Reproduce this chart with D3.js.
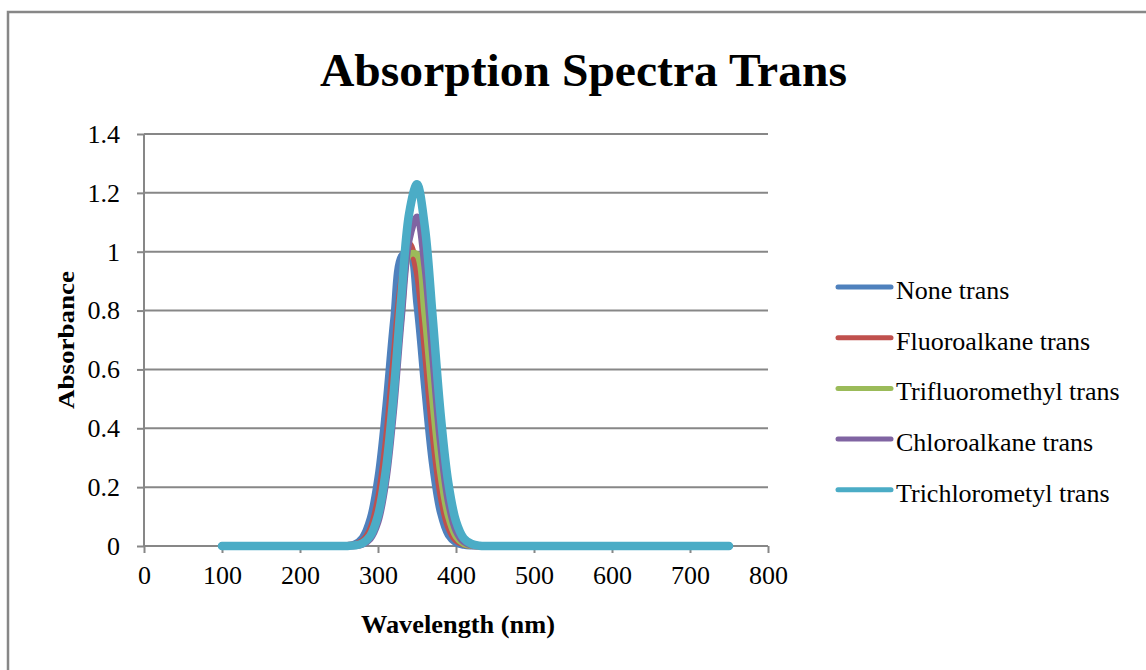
<!DOCTYPE html>
<html>
<head>
<meta charset="utf-8">
<script src="https://cdn.jsdelivr.net/npm/d3@7"></script>
<style>
  body { margin: 0; background: #fff; }
  text { font-family: "Liberation Serif", "Times New Roman", serif; fill: #000; }
</style>
</head>
<body>
<script>
// wavelengths (nm) shared by all series
const wavelength = [100, 250, 260, 270, 280, 290, 300, 310, 320, 330, 340, 350, 360, 370, 380, 390, 400, 410, 420, 430, 440, 450, 750];

// absorbance
const noneTrans    = [0, 0, 0.001, 0.007, 0.029, 0.094, 0.236, 0.476, 0.768, 0.985, 1.003, 0.815, 0.530, 0.274, 0.113, 0.037, 0.010, 0.002, 0, 0, 0, 0, 0];
const fluoroTrans  = [0, 0.001, 0.002, 0.004, 0.016, 0.054, 0.152, 0.343, 0.622, 0.895, 1.025, 0.934, 0.680, 0.395, 0.183, 0.067, 0.020, 0.006, 0.002, 0.001, 0, 0, 0];
const trifluoTrans = [0, 0, 0, 0.002, 0.008, 0.033, 0.103, 0.254, 0.502, 0.790, 0.990, 0.990, 0.790, 0.502, 0.254, 0.103, 0.033, 0.008, 0.002, 0, 0, 0, 0];
const chloroTrans  = [0, 0, 0, 0.001, 0.006, 0.025, 0.082, 0.218, 0.460, 0.776, 1.041, 1.118, 0.951, 0.647, 0.351, 0.152, 0.052, 0.014, 0.003, 0.001, 0, 0, 0];
const trichloTrans = [0, 0, 0, 0.002, 0.009, 0.034, 0.103, 0.256, 0.516, 0.847, 1.131, 1.229, 1.085, 0.780, 0.456, 0.217, 0.084, 0.026, 0.007, 0.001, 0, 0, 0];

const seriesNames = ['None trans', 'Fluoroalkane trans', 'Trifluoromethyl trans', 'Chloroalkane trans', 'Trichlorometyl trans'];
const seriesValues = [noneTrans, fluoroTrans, trifluoTrans, chloroTrans, trichloTrans];
const colors = ['#4F81BD', '#C0504D', '#9BBB59', '#8064A2', '#4BACC6'];

const xTicks = [0, 100, 200, 300, 400, 500, 600, 700, 800];
const yTicks = [0, 0.2, 0.4, 0.6, 0.8, 1, 1.2, 1.4];

const W = 1146, H = 670;
const plot = { left: 144, right: 768, top: 134, bottom: 546 };
const gray = '#878787';

const svg = d3.select('body').append('svg')
    .attr('width', W)
    .attr('height', H);

// outer chart border (only top and left show in the frame)
svg.append('path')
    .attr('d', `M8,${H} L8,12 L${W},12`)
    .attr('fill', 'none')
    .attr('stroke', gray)
    .attr('stroke-width', 2.5);

const x = d3.scaleLinear().domain([0, 800]).range([plot.left, plot.right]);
const y = d3.scaleLinear().domain([0, 1.4]).range([plot.bottom, plot.top]);

// gridlines
svg.append('g')
    .selectAll('line')
    .data(yTicks.slice(1))
    .enter().append('line')
    .attr('x1', plot.left)
    .attr('x2', plot.right)
    .attr('y1', d => y(d))
    .attr('y2', d => y(d))
    .attr('stroke', gray)
    .attr('stroke-width', 2);

// y axis
const yAxis = svg.append('g')
    .attr('transform', `translate(${plot.left},0)`)
    .call(d3.axisLeft(y).tickValues(yTicks).tickSize(7).tickPadding(17)
        .tickFormat(d => d3.format('~g')(d)));
yAxis.selectAll('line, path').attr('stroke', gray).attr('stroke-width', 2);
yAxis.select('.domain').attr('d', `M0,${plot.bottom}V${plot.top}`);
yAxis.selectAll('text')
    .style('font-family', '"Liberation Serif", serif')
    .style('font-size', '26px')
    .attr('fill', '#000');

// x axis
const xAxis = svg.append('g')
    .attr('transform', `translate(0,${plot.bottom})`)
    .call(d3.axisBottom(x).tickValues(xTicks).tickSize(7).tickPadding(13));
xAxis.selectAll('line, path').attr('stroke', gray).attr('stroke-width', 2);
xAxis.select('.domain').attr('d', `M${plot.left},0H${plot.right}`);
xAxis.selectAll('text')
    .style('font-family', '"Liberation Serif", serif')
    .style('font-size', '26px')
    .attr('fill', '#000');

// series lines
const line = d3.line()
    .x(d => x(d[0]))
    .y(d => y(d[1]))
    .curve(d3.curveCatmullRom.alpha(0.5));

seriesValues.forEach((vals, i) => {
    const pts = wavelength.map((w, j) => [w, vals[j]]);
    svg.append('path')
        .datum(pts)
        .attr('d', line)
        .attr('fill', 'none')
        .attr('stroke', colors[i])
        .attr('stroke-width', i === 4 ? 8.5 : 7)
        .attr('stroke-linecap', 'round')
        .attr('stroke-linejoin', 'round');
});

// title
svg.append('text')
    .attr('x', 320)
    .attr('y', 86)
    .attr('textLength', 527)
    .attr('lengthAdjust', 'spacingAndGlyphs')
    .style('font-size', '46px')
    .style('font-weight', 'bold')
    .text('Absorption Spectra Trans');

// axis titles
svg.append('text')
    .attr('transform', `translate(74,${(plot.top + plot.bottom) / 2}) rotate(-90)`)
    .attr('text-anchor', 'middle')
    .attr('textLength', 138)
    .attr('lengthAdjust', 'spacingAndGlyphs')
    .style('font-size', '24px')
    .style('font-weight', 'bold')
    .text('Absorbance');

svg.append('text')
    .attr('x', (plot.left + plot.right) / 2 + 2)
    .attr('y', 633)
    .attr('text-anchor', 'middle')
    .attr('textLength', 194)
    .attr('lengthAdjust', 'spacingAndGlyphs')
    .style('font-size', '25px')
    .style('font-weight', 'bold')
    .text('Wavelength (nm)');

// legend
const legend = svg.append('g');
seriesNames.forEach((name, i) => {
    const ly = 287 + i * 50.7;
    legend.append('line')
        .attr('x1', 838).attr('x2', 891)
        .attr('y1', ly).attr('y2', ly)
        .attr('stroke', colors[i])
        .attr('stroke-width', 5)
        .attr('stroke-linecap', 'round');
    legend.append('text')
        .attr('x', 896)
        .attr('y', ly + 12)
        .style('font-size', '26px')
        .text(name);
});
</script>
</body>
</html>
